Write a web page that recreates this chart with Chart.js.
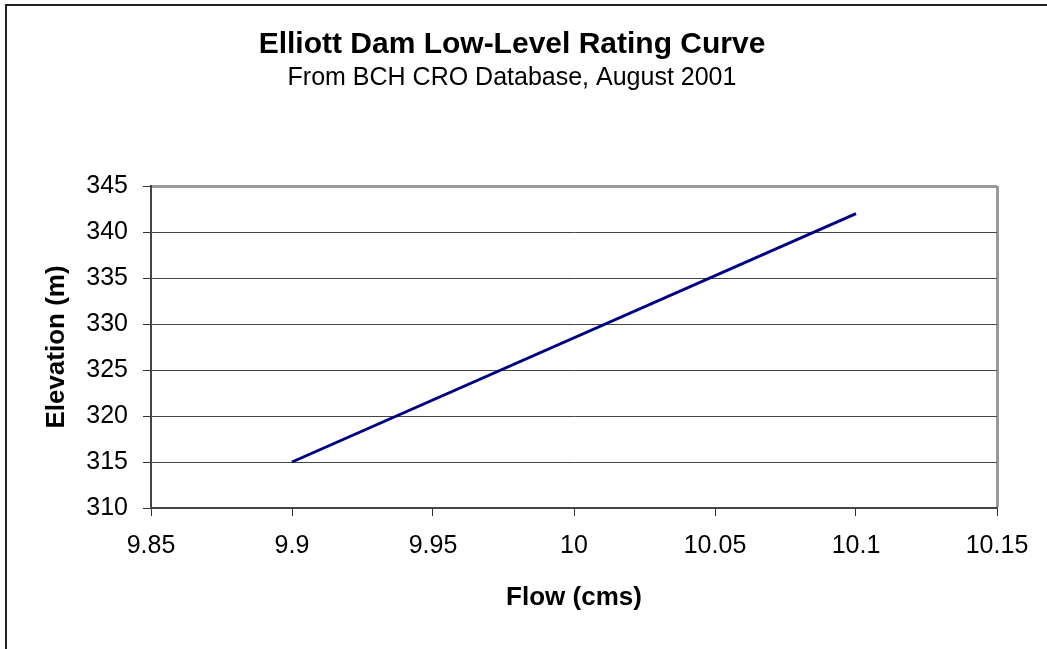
<!DOCTYPE html>
<html>
<head>
<meta charset="utf-8">
<script src="https://cdn.jsdelivr.net/npm/chart.js@4"></script>
<style>
  body { margin: 0; background: #fff; }
  #chart { display: block; }
</style>
</head>
<body>
<canvas id="chart" width="1047" height="649"></canvas>
<script>
const flow = [9.9, 10.1];
const elevation = [315, 342];
const xTicks = [9.85, 9.9, 9.95, 10, 10.05, 10.1, 10.15];
const yTicks = [310, 315, 320, 325, 330, 335, 340, 345];

const fontFam = "Arial, 'Liberation Sans', sans-serif";

// outer frame (only left and top edge show in the picture)
const framePlugin = {
    id: 'frame',
    beforeDraw(chart) {
        const c = chart.ctx;
        c.save();
        c.fillStyle = '#fff';
        c.fillRect(0, 0, chart.width, chart.height);
        c.fillStyle = '#222';
        c.fillRect(5, 4, 2, chart.height);
        c.fillRect(5, 4, chart.width, 2);
        c.restore();
    }
};

const ctx = document.getElementById('chart').getContext('2d');
const myChart = new Chart(ctx, {
    type: 'scatter',
    data: {
        datasets: [{
            data: flow.map((f, i) => ({ x: f, y: elevation[i] })),
            showLine: true,
            borderColor: '#000080',
            backgroundColor: '#000080',
            borderWidth: 3,
            pointRadius: 0,
            pointHoverRadius: 0,
        }],
    },
    plugins: [framePlugin],
    options: {
        responsive: false,
        animation: false,
        devicePixelRatio: 1,
        layout: { padding: { top: 27, left: 27, right: 50, bottom: 0 } },
        plugins: {
            legend: { display: false },
            tooltip: { enabled: false },
            title: {
                display: true,
                text: 'Elliott Dam Low-Level Rating Curve',
                color: '#000',
                font: { family: fontFam, size: 30, weight: 'bold', lineHeight: 1.2 },
                padding: { top: 0, bottom: 0 },
            },
            subtitle: {
                display: true,
                text: 'From BCH CRO Database, August 2001',
                color: '#000',
                font: { family: fontFam, size: 25, weight: 'normal', lineHeight: 1.2 },
                padding: { top: 0, bottom: 93 },
            },
        },
        scales: {
            x: {
                type: 'linear',
                min: 9.85,
                max: 10.15,
                afterBuildTicks: (scale) => { scale.ticks = xTicks.map(v => ({ value: v })); },
                afterFit: (scale) => { scale.height = 141; },
                ticks: {
                    color: '#000',
                    padding: 15,
                    maxRotation: 0,
                    font: { family: fontFam, size: 25 },
                    callback: (v) => String(v),
                },
                grid: {
                    drawTicks: true,
                    tickLength: 8,
                    tickColor: '#333',
                    tickWidth: 1,
                    color: (c) => (c.tick && c.tick.value === 10.15 ? '#999' : 'rgba(0,0,0,0)'),
                    lineWidth: (c) => (c.tick && c.tick.value === 10.15 ? 3 : 1),
                },
                border: { display: true, color: '#444', width: 2 },
                title: {
                    display: true,
                    text: 'Flow (cms)',
                    color: '#000',
                    font: { family: fontFam, size: 26, weight: 'bold', lineHeight: 1.2 },
                    padding: { top: 0, bottom: 36 },
                },
            },
            y: {
                type: 'linear',
                min: 310,
                max: 345,
                afterBuildTicks: (scale) => { scale.ticks = yTicks.map(v => ({ value: v })); },
                afterFit: (scale) => { scale.width = 124; },
                ticks: {
                    color: '#000',
                    padding: 15,
                    font: { family: fontFam, size: 25 },
                    callback: (v) => String(v),
                },
                grid: {
                    drawTicks: true,
                    tickLength: 8,
                    tickColor: '#333',
                    tickWidth: 1,
                    color: (c) => (c.tick && c.tick.value === 345 ? '#999' : '#444'),
                    lineWidth: (c) => (c.tick && c.tick.value === 345 ? 3 : 1),
                },
                border: { display: true, color: '#444', width: 2 },
                title: {
                    display: true,
                    text: 'Elevation (m)',
                    color: '#000',
                    font: { family: fontFam, size: 26, weight: 'bold', lineHeight: 1.2 },
                    padding: { top: 14, bottom: 0 },
                },
            },
        },
    },
});
</script>
</body>
</html>
